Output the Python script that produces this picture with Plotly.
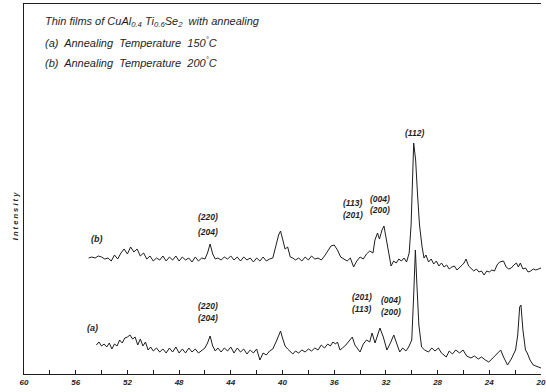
import plotly.graph_objects as go

# ---- Data (2theta in degrees, intensity in arbitrary units) ----
two_theta_b = [55.0, 54.75, 54.5, 54.25, 54.0, 53.75, 53.5, 53.25, 53.0, 52.75, 52.5, 52.25, 52.0, 51.75,
               51.5, 51.25, 51.0, 50.75, 50.5, 50.25, 50.0, 49.75, 49.5, 49.25, 49.0, 48.75, 48.5, 48.25,
               48.0, 47.75, 47.5, 47.25, 47.0, 46.75, 46.5, 46.25, 46.0, 45.8, 45.6, 45.4, 45.2, 45.0,
               44.75, 44.5, 44.25, 44.0, 43.75, 43.5, 43.25, 43.0, 42.75, 42.5, 42.25, 42.0, 41.75, 41.5,
               41.25, 41.0, 40.75, 40.55, 40.3, 40.15, 40.0, 39.8, 39.6, 39.4, 39.2, 39.0, 38.75, 38.5,
               38.25, 38.0, 37.75, 37.5, 37.25, 37.0, 36.75, 36.5, 36.25, 36.0, 35.75, 35.5, 35.25, 35.0,
               34.75, 34.5, 34.25, 34.0, 33.75, 33.5, 33.25, 33.0, 32.85, 32.65, 32.5, 32.3, 32.15, 32.0,
               31.8, 31.6, 31.4, 31.2, 31.0, 30.8, 30.6, 30.4, 30.2, 30.05, 29.85, 29.7, 29.55, 29.4,
               29.2, 29.05, 28.9, 28.7, 28.5, 28.3, 28.1, 27.9, 27.7, 27.5, 27.3, 27.1, 26.9, 26.7,
               26.5, 26.3, 26.1, 25.95, 25.8, 25.6, 25.4, 25.2, 25.0, 24.8, 24.6, 24.4, 24.2, 24.0,
               23.8, 23.6, 23.4, 23.2, 22.9, 22.7, 22.5, 22.3, 22.1, 21.9, 21.75, 21.6, 21.4, 21.2,
               21.0, 20.8, 20.6, 20.4, 20.2, 20.0]
intensity_b = [117, 118, 117, 119, 118, 116, 117, 114, 120, 116, 122, 126, 121, 128,
               123, 126, 119, 122, 116, 119, 114, 117, 115, 119, 114, 118, 115, 119,
               114, 118, 115, 117, 113, 118, 114, 117, 116, 122, 131, 121, 116, 117,
               115, 118, 116, 119, 115, 118, 114, 118, 115, 117, 113, 117, 114, 118,
               114, 116, 117, 128, 140, 144, 136, 126, 128, 118, 117, 115, 117, 114,
               118, 115, 119, 116, 117, 115, 119, 124, 129, 130, 125, 118, 116, 114,
               117, 108, 114, 118, 116, 121, 124, 122, 135, 142, 136, 145, 149, 137,
               124, 109, 114, 112, 116, 114, 117, 113, 122, 150, 232, 215, 180, 150,
               128, 117, 120, 113, 116, 111, 114, 109, 112, 108, 110, 106, 108, 109,
               105, 108, 110, 112, 116, 109, 106, 104, 106, 103, 104, 100, 104, 103,
               105, 104, 110, 113, 114, 108, 106, 107, 110, 112, 108, 112, 106, 107,
               103, 104, 106, 105, 106, 107]

two_theta_a = [54.4, 54.2, 54.0, 53.8, 53.6, 53.4, 53.2, 53.0, 52.8, 52.6, 52.4, 52.2, 52.0, 51.8,
               51.6, 51.4, 51.2, 51.0, 50.8, 50.6, 50.4, 50.2, 50.0, 49.75, 49.5, 49.25, 49.0, 48.75,
               48.5, 48.25, 48.0, 47.75, 47.5, 47.25, 47.0, 46.75, 46.5, 46.25, 46.0, 45.8, 45.6, 45.4,
               45.2, 45.0, 44.75, 44.5, 44.25, 44.0, 43.75, 43.5, 43.25, 43.0, 42.75, 42.5, 42.25, 42.0,
               41.75, 41.5, 41.25, 41.0, 40.75, 40.5, 40.3, 40.15, 40.0, 39.8, 39.6, 39.4, 39.2, 39.0,
               38.75, 38.5, 38.25, 38.0, 37.75, 37.5, 37.25, 37.0, 36.75, 36.5, 36.3, 36.1, 35.9, 35.75,
               35.55, 35.36, 35.1, 34.85, 34.6, 34.4, 34.2, 34.0, 33.75, 33.5, 33.25, 33.07, 32.84, 32.65,
               32.46, 32.2, 31.92, 31.65, 31.39, 31.15, 30.93, 30.7, 30.45, 30.24, 30.0, 29.85, 29.72, 29.6,
               29.45, 29.24, 29.0, 28.7, 28.45, 28.2, 27.94, 27.7, 27.5, 27.33, 27.1, 26.85, 26.6, 26.3,
               26.03, 25.75, 25.42, 25.15, 24.85, 24.6, 24.3, 24.04, 23.8, 23.55, 23.3, 23.12, 22.9, 22.59,
               22.3, 22.1, 21.97, 21.8, 21.65, 21.55, 21.4, 21.2, 21.06, 20.85, 20.6, 20.4, 20.2, 20.0]
intensity_a = [30, 33, 29, 31, 28, 32, 26, 31, 29, 35, 32, 37, 38, 40,
               36, 38, 30, 36, 29, 33, 25, 28, 24, 27, 23, 26, 22, 27,
               23, 28, 22, 26, 22, 27, 23, 26, 22, 25, 27, 32, 39, 29,
               24, 27, 23, 27, 24, 28, 22, 27, 23, 26, 21, 25, 22, 26,
               15, 22, 20, 24, 26, 33, 40, 44, 37, 29, 26, 23, 21, 24,
               22, 25, 23, 26, 24, 27, 25, 30, 27, 31, 29, 33, 31, 33,
               25, 27, 30, 34, 38, 30, 27, 23, 31, 35, 33, 42, 32, 39,
               47, 38, 25, 32, 40, 31, 23, 27, 24, 28, 35, 80, 125, 90,
               50, 28, 25, 23, 27, 24, 27, 22, 20, 18, 24, 21, 25, 22,
               25, 19, 17, 19, 16, 18, 15, 13, 16, 19, 22, 25, 18, 10,
               16, 22, 25, 40, 68, 70, 45, 25, 22, 15, 10, 9, 8, 7]

# peak labels: (text, 2theta, intensity)
label_text = ["(220)", "(204)", "(113)", "(201)", "(004)", "(200)", "(112)",
              "(220)", "(204)", "(201)", "(113)", "(004)", "(200)"]
label_x = [45.75, 45.75, 34.56, 34.56, 32.49, 32.49, 29.81,
           45.75, 45.75, 33.87, 33.87, 31.57, 31.57]
label_y = [158, 143, 172, 160, 176, 165, 242,
           69, 57, 78, 66, 75, 63]

series_names = ["(b)", "(a)"]
series_label_x = [54.33, 54.71]
series_label_y = [136, 47]

title_lines = ["Thin films of CuAl<sub>0.4</sub> Ti<sub>0.6</sub>Se<sub>2</sub>  with annealing",
               "(a)  Annealing  Temperature  150<sup>°</sup>C",
               "(b)  Annealing  Temperature  200<sup>°</sup>C"]
title_y = [353, 333, 313]

tick_vals = [60, 56, 52, 48, 44, 40, 36, 32, 28, 24, 20]

ink = "#1e1e1e"

fig = go.Figure()
fig.add_trace(go.Scatter(x=two_theta_b, y=intensity_b, mode="lines",
                         line=dict(color=ink, width=1), name="b", showlegend=False))
fig.add_trace(go.Scatter(x=two_theta_a, y=intensity_a, mode="lines",
                         line=dict(color=ink, width=1), name="a", showlegend=False))

ann = []
for t, x, y in zip(label_text, label_x, label_y):
    ann.append(dict(x=x, y=y, text=t, showarrow=False, xanchor="center", yanchor="middle",
                    font=dict(family="Liberation Sans", size=8.5, color=ink, style="italic", weight="bold")))
for t, x, y in zip(series_names, series_label_x, series_label_y):
    ann.append(dict(x=x, y=y, text=t, showarrow=False, xanchor="center", yanchor="middle",
                    font=dict(family="Liberation Sans", size=9, color=ink, style="italic", weight="bold")))
for t, y in zip(title_lines, title_y):
    ann.append(dict(x=58.55, y=y, text=t, showarrow=False, xanchor="left", yanchor="middle",
                    font=dict(family="Liberation Sans", size=11, color=ink, style="italic")))
ann.append(dict(xref="paper", x=-0.017, y=159, text="I n t e n s i t y", textangle=-90,
                showarrow=False, xanchor="center", yanchor="middle",
                font=dict(family="Liberation Sans", size=7.5, color=ink, style="italic", weight="bold")))
ann.append(dict(x=38.8, y=-13, text="2θ", showarrow=False, xanchor="center", yanchor="top",
                font=dict(family="Liberation Sans", size=9, color=ink, style="italic", weight="bold")))
fig.update_layout(annotations=ann)

fig.update_layout(
    width=546, height=392,
    margin=dict(l=24, r=0, t=4, b=18),
    paper_bgcolor="white", plot_bgcolor="white",
    xaxis=dict(range=[60, 20], tickvals=tick_vals, ticktext=[str(v) for v in tick_vals],
               showgrid=False, zeroline=False, showline=True, linecolor=ink, linewidth=1.2,
               mirror=True, ticks="inside", ticklen=4, tickcolor=ink, tickwidth=1,
               ticklabeloverflow="allow",
               minor=dict(dtick=2, tick0=20, ticks="inside", ticklen=4, tickcolor=ink, showgrid=False),
               tickfont=dict(family="Liberation Sans", size=8, color=ink, style="italic", weight="bold")),
    yaxis=dict(range=[1, 371], showgrid=False, zeroline=False, showline=True, linecolor=ink,
               linewidth=1.2, showticklabels=False, ticks=""),
)

fig.write_html("out.html")
